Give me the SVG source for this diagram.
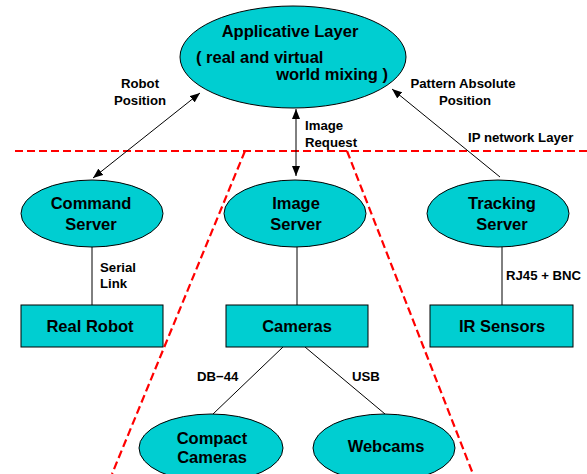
<svg xmlns="http://www.w3.org/2000/svg" width="587" height="474" viewBox="0 0 587 474">
<style>
.n{fill:#00ced1;stroke:#000;stroke-width:1}
.t{font-family:"Liberation Sans",Arial,sans-serif;font-weight:bold;font-size:16.5px;fill:#000;text-anchor:middle}
.l{font-family:"Liberation Sans",Arial,sans-serif;font-weight:bold;font-size:13.2px;fill:#000}
.c{stroke:#000;stroke-width:1;fill:none}
.r{stroke:#f00;stroke-width:2.2;stroke-dasharray:8 4;fill:none}
</style>
<defs>
<marker id="ah" viewBox="0 0 10 8" refX="10" refY="4" markerWidth="10" markerHeight="8" markerUnits="userSpaceOnUse" orient="auto-start-reverse">
<path d="M0,0 L10,4 L0,8 Z" fill="#000"/>
</marker>
</defs>
<g id="layers">
<line class="r" x1="15" y1="151" x2="587" y2="151"/>
<line class="r" x1="245" y1="151" x2="112" y2="474"/>
<line class="r" x1="347" y1="151" x2="473" y2="474"/>
<text class="l" x="468" y="142">IP network Layer</text>
</g>
<g id="connectors">
<line class="c" x1="93" y1="178" x2="200" y2="93" marker-start="url(#ah)" marker-end="url(#ah)"/>
<line class="c" x1="296" y1="109" x2="296" y2="176" marker-start="url(#ah)" marker-end="url(#ah)"/>
<line class="c" x1="500" y1="177" x2="392" y2="89" marker-end="url(#ah)"/>
<line class="c" x1="92" y1="247" x2="92" y2="305"/>
<line class="c" x1="297" y1="247" x2="297" y2="305"/>
<line class="c" x1="502" y1="247" x2="502" y2="305"/>
<line class="c" x1="283" y1="347" x2="213" y2="414"/>
<line class="c" x1="305" y1="347" x2="385" y2="414"/>
<text class="l" x="140" y="88" text-anchor="middle">Robot</text>
<text class="l" x="140" y="105" text-anchor="middle">Position</text>
<text class="l" x="305" y="130">Image</text>
<text class="l" x="305" y="147">Request</text>
<text class="l" x="463" y="88" text-anchor="middle">Pattern Absolute</text>
<text class="l" x="465" y="105" text-anchor="middle">Position</text>
<text class="l" x="100" y="272">Serial</text>
<text class="l" x="100" y="288">Link</text>
<text class="l" x="506" y="280">RJ45 + BNC</text>
<text class="l" x="197" y="381">DB−44</text>
<text class="l" x="352" y="381">USB</text>
</g>
<g id="applicative">
<ellipse class="n" cx="293" cy="57" rx="113" ry="51"/>
<text class="t" x="290" y="37">Applicative Layer</text>
<text class="t" x="196" y="63" style="text-anchor:start">( real and virtual</text>
<text class="t" x="388" y="80" style="text-anchor:end">world mixing )</text>
</g>
<g id="command">
<ellipse class="n" cx="92" cy="213.5" rx="71" ry="33.5"/>
<text class="t" x="91" y="209">Command</text>
<text class="t" x="91" y="230">Server</text>
</g>
<g id="image">
<ellipse class="n" cx="295" cy="213.5" rx="71" ry="33.5"/>
<text class="t" x="296" y="209">Image</text>
<text class="t" x="296" y="230">Server</text>
</g>
<g id="tracking">
<ellipse class="n" cx="498" cy="213.5" rx="71" ry="33.5"/>
<text class="t" x="502" y="209">Tracking</text>
<text class="t" x="502" y="230">Server</text>
</g>
<g id="robot">
<rect class="n" x="21" y="305" width="142" height="42"/>
<text class="t" x="90" y="332">Real Robot</text>
</g>
<g id="cameras">
<rect class="n" x="226" y="305" width="142" height="42"/>
<text class="t" x="297" y="332">Cameras</text>
</g>
<g id="ir">
<rect class="n" x="430" y="305" width="143" height="42"/>
<text class="t" x="502" y="332">IR Sensors</text>
</g>
<g id="compact">
<ellipse class="n" cx="211" cy="448" rx="72" ry="34"/>
<text class="t" x="212" y="444">Compact</text>
<text class="t" x="212" y="463">Cameras</text>
</g>
<g id="webcams">
<ellipse class="n" cx="384" cy="448" rx="71" ry="34"/>
<text class="t" x="386" y="452">Webcams</text>
</g>
</svg>
